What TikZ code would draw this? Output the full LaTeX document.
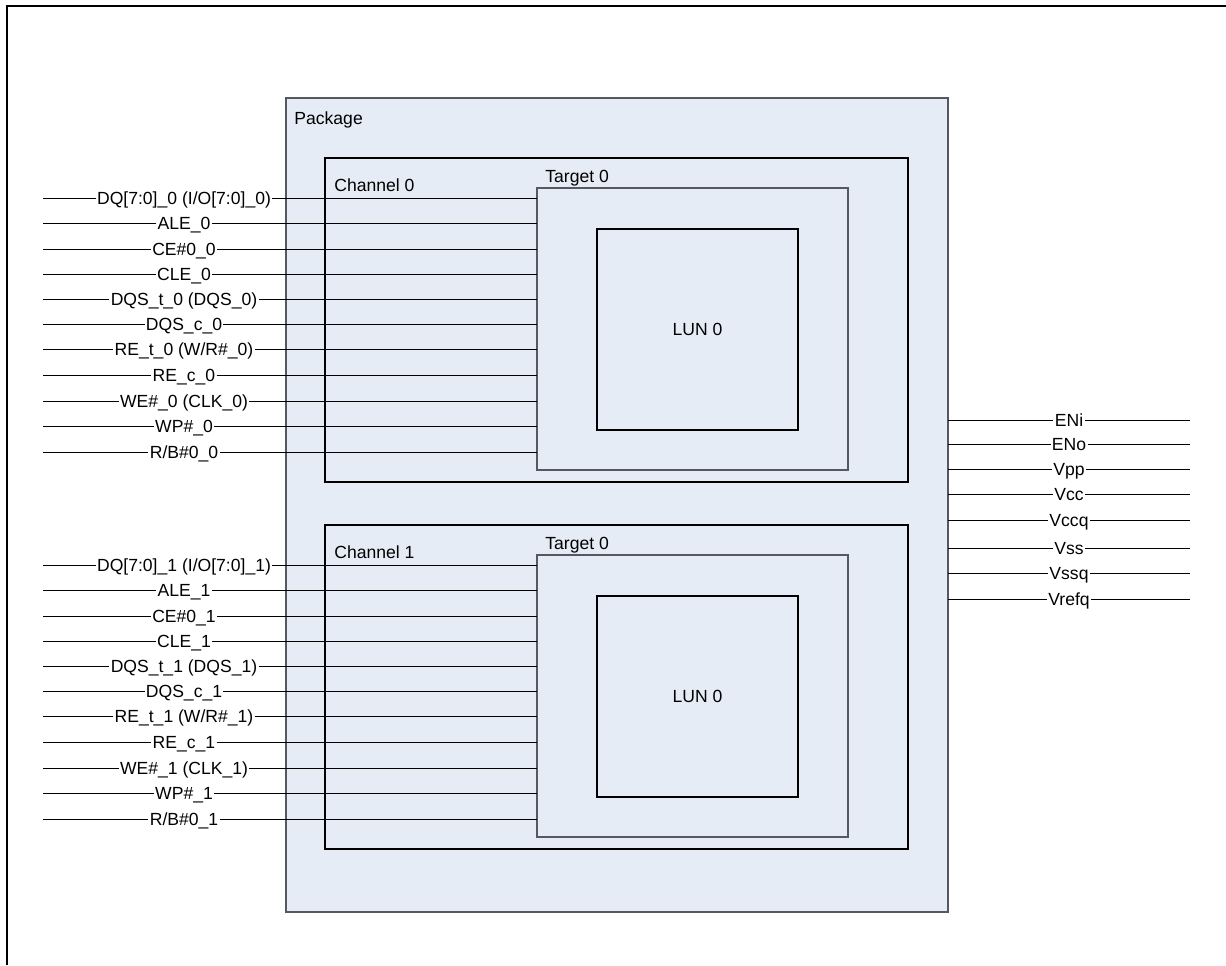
\documentclass[tikz,border=0pt]{standalone}
\usepackage{fontspec}
\setmainfont{Liberation Sans}
\usetikzlibrary{positioning, calc}
\definecolor{PkgBlue}{RGB}{230,236,246}
\definecolor{EdgeGray}{RGB}{85,88,95}
\tikzset{
  % Riquadri annidati (package, canale, target, LUN)
  box/.style={draw=black,line width=0.6pt,fill=PkgBlue,anchor=north west,inner sep=0pt,outer sep=0pt},
  box pkg/.style={box,draw=EdgeGray,minimum width=662*0.02cm,minimum height=814*0.02cm},
  box chan/.style={box,minimum width=583*0.02cm,minimum height=324*0.02cm},
  box target/.style={box,draw=EdgeGray,minimum width=311*0.02cm,minimum height=282*0.02cm},
  box lun/.style={box,minimum width=201*0.02cm,minimum height=201*0.02cm},
  % Testi e segnali
  txt/.style={font=\fontsize{10}{12}\selectfont,inner sep=0.6pt},
  sig/.style={txt,text height=7.2pt,text depth=0pt},
  connect/.style={line width=0.5pt,black}
}
\begin{document}
\begin{tikzpicture}[x=0.02cm,y=-0.02cm]
  \useasboundingbox (0,0) rectangle (1226,965);
  % cornice esterna
  \draw[line width=1.2pt] (1226,6) -- (7,6) -- (7,965);

  \node[box pkg] (pkg) at (286,98) {};
  \node[txt,anchor=west] (pkg label) at ([shift={(7,22)}]pkg.north west) {Package};

  \foreach \c/\top in {0/158,1/525} {
    \node[box chan] (ch\c) at (325,\top) {};
    \node[txt,anchor=west] (ch\c label) at ([shift={(8,27)}]ch\c.north west) {Channel \c};
    \node[box target] (tgt\c) at ([shift={(212,30)}]ch\c.north west) {};
    \node[txt,anchor=south west] (tgt\c label) at ([shift={(7,0)}]tgt\c.north west) {Target 0};
    \node[box lun] (lun\c) at ([shift={(60,41)}]tgt\c.north west) {};
    \node[txt] (lun\c label) at (lun\c.center) {LUN 0};
    % segnali del canale
    \foreach \dy/\name [count=\i] in {40/{DQ[7:0]\_\c{} (I/O[7:0]\_\c)},65/{ALE\_\c},91/{CE\#0\_\c},
        116/{CLE\_\c},141/{DQS\_t\_\c{} (DQS\_\c)},166/{DQS\_c\_\c},191/{RE\_t\_\c{} (W/R\#\_\c)},
        217/{RE\_c\_\c},243/{WE\#\_\c{} (CLK\_\c)},268/{WP\#\_\c},294/{R/B\#0\_\c}} {
      \coordinate (pin\c-\i) at (43,\top+\dy);
      \node[sig] (sig\c-\i) at (184,\top+\dy) {\name};
      \draw[connect] (pin\c-\i) -- (sig\c-\i) -- (sig\c-\i -| tgt\c.west);
    }
  }

  % alimentazioni e abilitazioni
  \foreach \y/\name [count=\j] in {420/ENi,444/ENo,469/Vpp,494/Vcc,520/Vccq,548/Vss,573/Vssq,599/Vrefq} {
    \coordinate (pout\j) at (1190,\y);
    \node[sig] (pwr\j) at (1069,\y) {\name};
    \draw[connect] (pwr\j -| pkg.east) -- (pwr\j) -- (pout\j);
  }
\end{tikzpicture}
\end{document}
